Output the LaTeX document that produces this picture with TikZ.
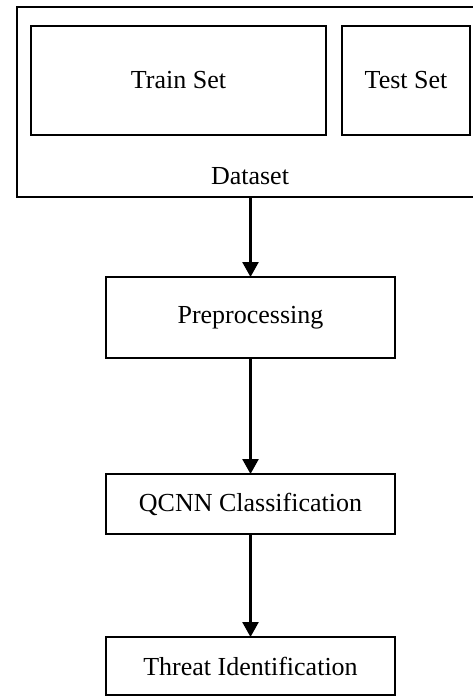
\documentclass[tikz,border=0pt]{standalone}
\usepackage{fontspec}
\setmainfont{Liberation Serif}
\usetikzlibrary{arrows.meta}
\begin{document}
\begin{tikzpicture}[x=1pt,y=-1pt,
  box/.style={draw,line width=2.8pt,inner sep=0pt,outer sep=0pt,font=\fontsize{26}{30}\selectfont},
  lbl/.style={inner sep=0pt,font=\fontsize{26}{30}\selectfont},
  flow/.style={line width=2.6pt,-{Triangle[width=16pt,length=15pt]}}]
\clip (0,0) rectangle (473,697);
\node[box,minimum width=463pt,minimum height=190pt] (dataset) at (248.5,102) {};
\node[box,minimum width=295pt,minimum height=109pt] (train) at (178.5,80.5) {Train Set};
\node[box,minimum width=128pt,minimum height=109pt] (test) at (406,80.5) {Test Set};
\node[lbl,anchor=base] (dlabel) at (250,184) {Dataset};
\node[box,minimum width=289pt,minimum height=81pt] (prep) at (250.5,317.5) {Preprocessing};
\node[box,minimum width=289pt,minimum height=60pt] (qcnn) at (250.5,504) {QCNN Classification};
\node[box,minimum width=289pt,minimum height=58pt] (threat) at (250.5,666) {Threat Identification};
\draw[flow] (dataset.south -| prep.north) -- (prep.north);
\draw[flow] (prep.south) -- (qcnn.north);
\draw[flow] (qcnn.south) -- (threat.north);
\end{tikzpicture}
\end{document}
